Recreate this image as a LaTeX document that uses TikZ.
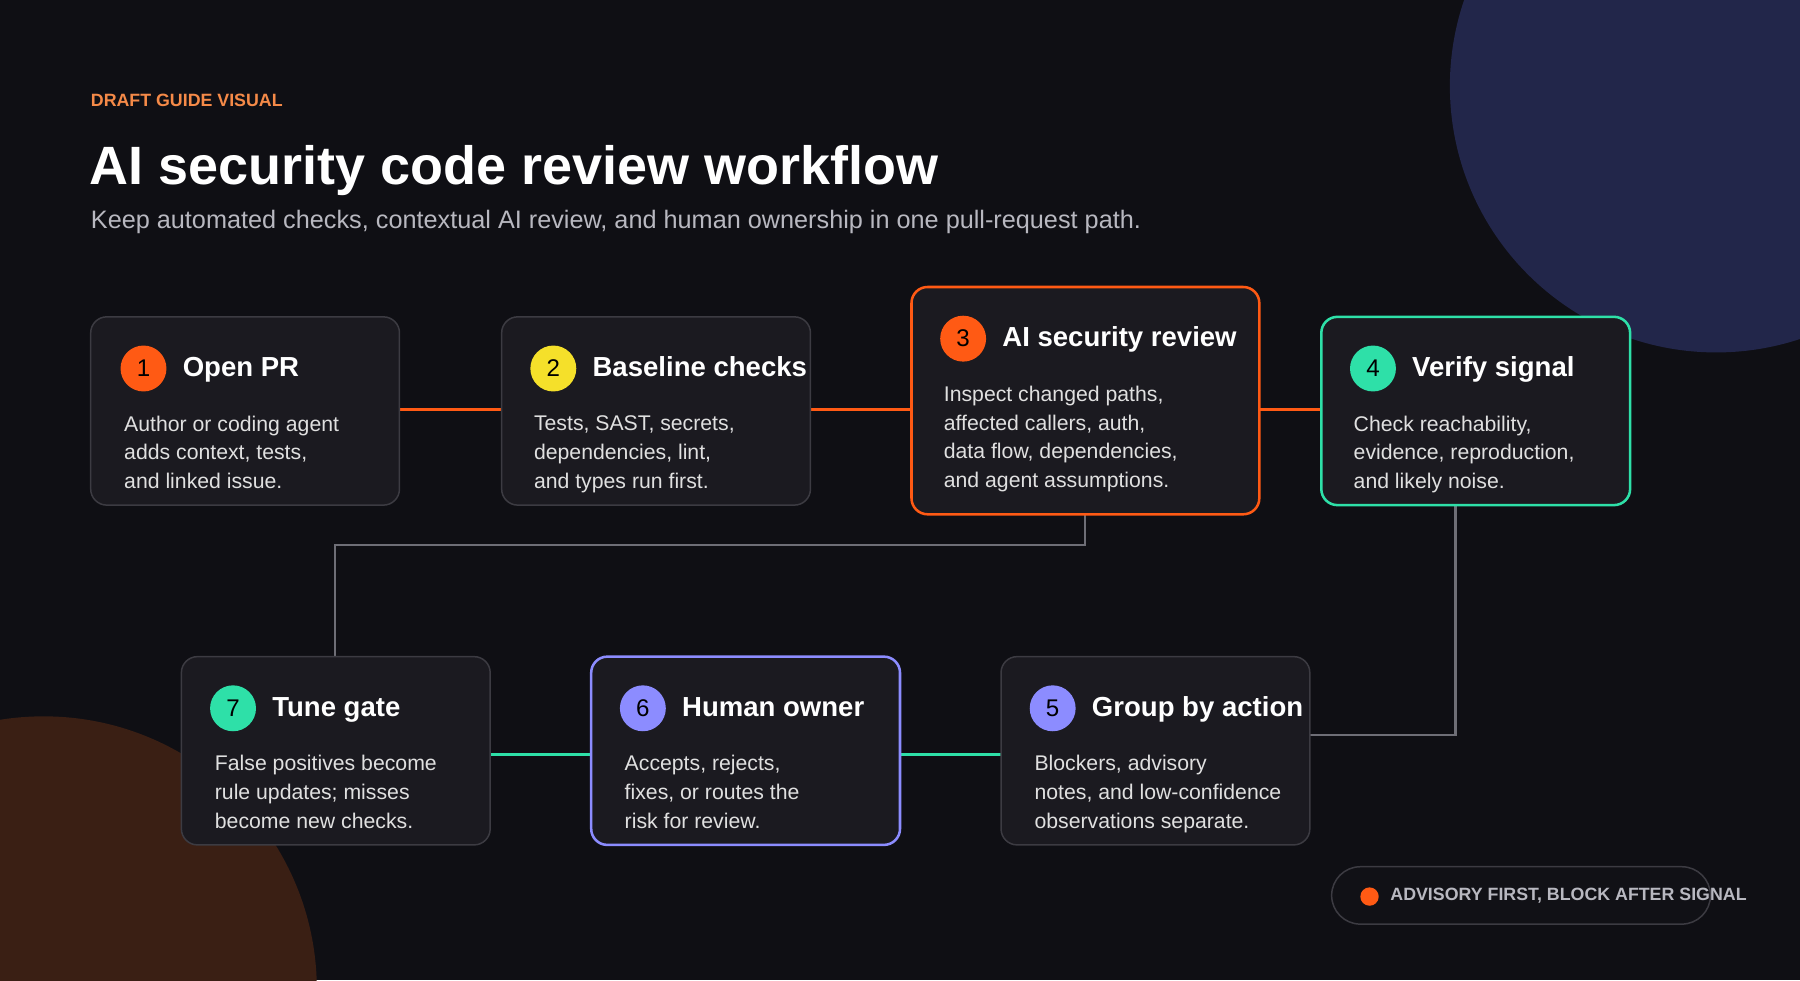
\documentclass[tikz,border=0pt]{standalone}
\usepackage{fontspec}
\setmainfont{Liberation Sans}
\usetikzlibrary{positioning}
\definecolor{bg}{HTML}{0F0F14}
\definecolor{card}{HTML}{1B1A20}
\definecolor{edge}{HTML}{3C3B42}
\definecolor{hot}{HTML}{FF5A14}
\definecolor{peach}{HTML}{F58A48}
\definecolor{mint}{HTML}{2EE0A8}
\definecolor{lilac}{HTML}{8C8CFF}
\definecolor{sun}{HTML}{F5E02A}
\definecolor{wire}{HTML}{6E6E76}
\definecolor{soft}{HTML}{B8B8C0}
\definecolor{navy}{HTML}{22264A}
\definecolor{rust}{HTML}{3A1F14}
\tikzset{
  card/.style={draw=edge, line width=1.3pt, fill=card, rounded corners=14pt},
  badge/.style={circle, minimum size=40pt, inner sep=0pt, text=black,
    font=\fontsize{21}{21}\selectfont},
  ctitle/.style={anchor=base west, text=white, inner sep=0pt,
    font=\bfseries\fontsize{24}{24}\selectfont},
  body/.style={anchor=north west, text=white!88!black, inner sep=0pt, align=left,
    font=\fontsize{18.5}{25}\selectfont},
  flow/.style={line width=2.5pt},
  link/.style={draw=wire, line width=2pt},
}
\begin{document}
\begin{tikzpicture}[x=1pt,y=-1pt]

    \fill [bg] (0,0) rectangle (1568,854);
    \useasboundingbox (0,0) rectangle (1568,854);
    \begin{scope}
      \clip (0,0) rectangle (1568,854);
      \fill [navy] (1495,75) circle (232);
      \fill [rust] (38,862) circle (238);
    \end{scope}

    \node [anchor=base west, inner sep=0pt, text=peach, font=\bfseries\fontsize{15.5}{15.5}\selectfont] at (79,93) (kicker) {DRAFT GUIDE VISUAL};
    \node [anchor=base west, inner sep=0pt, text=white, font=\bfseries\fontsize{47}{47}\selectfont] at (78,161) (title) {AI security code review workflow};
    \node [anchor=base west, inner sep=0pt, text=soft, font=\fontsize{22}{22}\selectfont] at (79,199) (sub) {Keep automated checks, contextual AI review, and human ownership in one pull-request path.};

    % connectors
    \coordinate (c3) at (945,475);
    \coordinate (c7) at (292,475);
    \coordinate (c4) at (1268,640);
    \draw [flow, hot] (348,357) -- (437,357);
    \draw [flow, hot] (706,357) -- (794,357);
    \draw [flow, hot] (1097,357) -- (1151,357);
    \draw [flow, mint] (427,657) -- (515,657);
    \draw [flow, mint] (784,657) -- (872,657);
    \draw [link] (945,448) -- (c3) -- (c7) -- (292,572);
    \draw [link] (1268,440) -- (c4) -- (1141,640);

    % top row
    \draw [card] (79,276) rectangle (348,440);
    \node [badge, fill=hot] at (125,321) (b1) {1};
    \node [ctitle] at (159,328) (t1) {Open PR};
    \node [body] at (108,362) (d1) {Author or coding agent\\adds context, tests,\\and linked issue.};

    \draw [card] (437,276) rectangle (706,440);
    \node [badge, fill=sun] at (482,321) (b2) {2};
    \node [ctitle] at (516,328) (t2) {Baseline checks};
    \node [body] at (465,362) (d2) {Tests, SAST, secrets,\\dependencies, lint,\\and types run first.};

    \draw [card, draw=hot, line width=2.2pt] (794,250) rectangle (1097,448);
    \node [badge, fill=hot] at (839,295) (b3) {3};
    \node [ctitle] at (873,302) (t3) {AI security review};
    \node [body] at (822,336) (d3) {Inspect changed paths,\\affected callers, auth,\\data flow, dependencies,\\and agent assumptions.};

    \draw [card, draw=mint, line width=2.2pt] (1151,276) rectangle (1420,440);
    \node [badge, fill=mint] at (1196,321) (b4) {4};
    \node [ctitle] at (1230,328) (t4) {Verify signal};
    \node [body] at (1179,362) (d4) {Check reachability,\\evidence, reproduction,\\and likely noise.};

    % bottom row
    \draw [card] (158,572) rectangle (427,736);
    \node [badge, fill=mint] at (203,617) (b7) {7};
    \node [ctitle] at (237,624) (t7) {Tune gate};
    \node [body] at (187,658) (d7) {False positives become\\rule updates; misses\\become new checks.};

    \draw [card, draw=lilac, line width=2.2pt] (515,572) rectangle (784,736);
    \node [badge, fill=lilac] at (560,617) (b6) {6};
    \node [ctitle] at (594,624) (t6) {Human owner};
    \node [body] at (544,658) (d6) {Accepts, rejects,\\fixes, or routes the\\risk for review.};

    \draw [card] (872,572) rectangle (1141,736);
    \node [badge, fill=lilac] at (917,617) (b5) {5};
    \node [ctitle] at (951,624) (t5) {Group by action};
    \node [body] at (901,658) (d5) {Blockers, advisory\\notes, and low-confidence\\observations separate.};

    % tag
    \draw [draw=edge, line width=1.3pt, fill=bg!80!card, rounded corners=25pt] (1160,755) rectangle (1490,805);
    \fill [hot] (1193,781) circle (8);
    \node [anchor=base west, inner sep=0pt, text=soft, font=\bfseries\fontsize{15.5}{15.5}\selectfont] at (1211,784) (tag) {ADVISORY FIRST, BLOCK AFTER SIGNAL};

\end{tikzpicture}
\end{document}
